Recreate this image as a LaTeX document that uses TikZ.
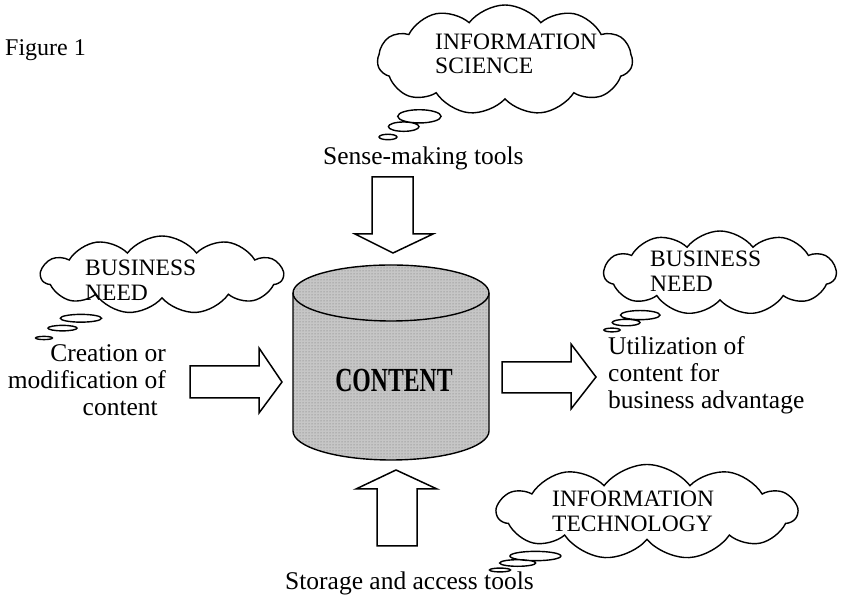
\documentclass[tikz,border=0pt]{standalone}
\usepackage{fontspec}
\setmainfont{Liberation Serif}
\usepackage{tikz}
\usetikzlibrary{shapes.callouts,patterns}

\tikzset{
  thought/.style={cloud callout, draw, line width=1.4pt, cloud puffs=11,
    cloud puff arc=105, cloud ignores aspect, inner sep=0pt,
    callout pointer segments=3,
    callout pointer start size=.22 of callout,
    callout pointer end size=.07 of callout},
  bubbletext/.style={inner sep=0pt, align=left, font=\fontsize{23.5}{24.5}\selectfont},
  bodytext/.style={inner sep=0pt, font=\fontsize{25.5}{27}\selectfont},
  blockarrow/.style={draw, line width=1.5pt, line join=miter, fill=white}
}

\begin{document}
\begin{tikzpicture}[x=1pt,y=1pt]
        \useasboundingbox (0,0) rectangle (841,604);
        % Define the nodes
        \node[bodytext, anchor=base west] (fig) at (5,548) {\fontsize{24}{26}\selectfont Figure 1};
        % clouds
        \node[thought, minimum width=255pt, minimum height=110pt,
              callout absolute pointer={(388,467)}] (sci) at (505,544) {};
        \node[bubbletext, anchor=west] (scitext) at (435,550) {INFORMATION\\SCIENCE};
        \node[thought, minimum width=242pt, minimum height=78pt,
              callout absolute pointer={(44,266)}] (needl) at (162,329) {};
        \node[bubbletext, anchor=west] (needltext) at (85,323.5) {BUSINESS\\NEED};
        \node[thought, minimum width=232pt, minimum height=84pt,
              callout absolute pointer={(612,274)}] (needr) at (720,331) {};
        \node[bubbletext, anchor=west] (needrtext) at (650,332.5) {BUSINESS\\NEED};
        \node[thought, minimum width=300pt, minimum height=95pt,
              callout absolute pointer={(500,34)}] (tech) at (647,92) {};
        \node[bubbletext, anchor=west] (techtext) at (552,92.5) {INFORMATION\\TECHNOLOGY};
        % content store
        \fill[gray!45] (293,311) -- (293,173) arc[start angle=180, end angle=360, x radius=98, y radius=29]
              -- (489,311) arc[start angle=0, end angle=180, x radius=98, y radius=28] -- cycle;
        \fill[pattern=dots, pattern color=gray!85!black] (293,311) -- (293,173) arc[start angle=180, end angle=360, x radius=98, y radius=29]
              -- (489,311) arc[start angle=0, end angle=180, x radius=98, y radius=28] -- cycle;
        \draw[line width=1.4pt] (293,311) -- (293,173) arc[start angle=180, end angle=360, x radius=98, y radius=29]
              -- (489,311);
        \draw[line width=1.4pt] (391,311) ellipse[x radius=98, y radius=28];
        \node[font=\fontsize{25}{25}\bfseries] (content) at (394,224) {\scalebox{0.95}[1.35]{CONTENT}};
        % labels
        \node[bodytext, anchor=base west] (sense) at (323,439) {Sense-making tools};
        \node[bodytext, anchor=base west] (store) at (285,14) {Storage and access tools};
        \node[bodytext, align=right, anchor=east] (create) at (166,223.5) {Creation or\\modification of\\content\hspace*{8pt}};
        \node[bodytext, align=left, anchor=west] (use) at (608,228.5) {Utilization of\\content for\\business advantage};
        % block arrows
        \draw[blockarrow] (372,427) -- (413,427) -- (413,370) -- (433,370) -- (393,351) -- (355,370) -- (372,370) -- cycle;
        \draw[blockarrow] (190,238) -- (259,238) -- (259,256) -- (282,222) -- (259,191) -- (259,206) -- (190,206) -- cycle;
        \draw[blockarrow] (502,242) -- (571,242) -- (571,260) -- (596,227) -- (571,195) -- (571,211) -- (502,211) -- cycle;
        \draw[blockarrow] (377,58) -- (377,115) -- (356,115) -- (396,134) -- (437,115) -- (417,115) -- (417,58) -- cycle;
\end{tikzpicture}
\end{document}
